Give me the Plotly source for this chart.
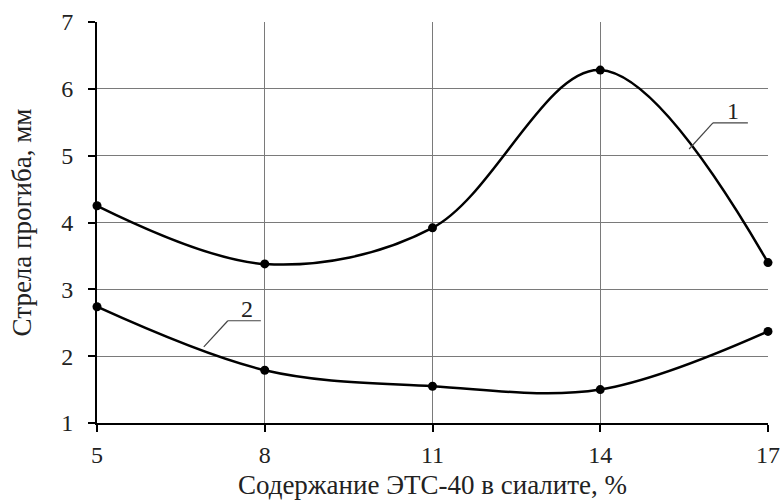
import plotly.graph_objects as go

x_vals = [5, 8, 11, 14, 17]
series1 = [4.25, 3.38, 3.92, 6.28, 3.40]
series2 = [2.74, 1.79, 1.55, 1.50, 2.37]
y_ticks = [1, 2, 3, 4, 5, 6, 7]

FONT = "Liberation Serif, Times New Roman, serif"

fig = go.Figure()
for ys in (series1, series2):
    fig.add_trace(go.Scatter(
        x=x_vals, y=ys, mode="lines+markers",
        line=dict(color="black", width=2.5, shape="spline", smoothing=1.0),
        marker=dict(color="black", size=9),
        showlegend=False, hoverinfo="skip", cliponaxis=False))

# curve labels with leader lines
labels = [
    dict(text="1", hx0=16.015, hx1=16.64, hy=5.49, sx=15.59, sy=5.10),
    dict(text="2", hx0=7.34, hx1=7.93, hy=2.53, sx=6.91, sy=2.14),
]
for lb in labels:
    fig.add_shape(type="line", x0=lb["hx0"], x1=lb["hx1"], y0=lb["hy"], y1=lb["hy"],
                  line=dict(color="#444", width=1.2))
    fig.add_shape(type="line", x0=lb["hx0"], x1=lb["sx"], y0=lb["hy"], y1=lb["sy"],
                  line=dict(color="#444", width=1.2))
    fig.add_annotation(x=(lb["hx0"] + lb["hx1"]) / 2 + 0.05, y=lb["hy"], text=lb["text"],
                       showarrow=False, yanchor="bottom", yshift=-3,
                       font=dict(family=FONT, size=24, color="#222"))

fig.update_layout(
    width=783, height=504,
    margin=dict(l=97, r=15, t=22, b=81),
    paper_bgcolor="white", plot_bgcolor="white",
    font=dict(family=FONT, size=24, color="#222"),
    xaxis=dict(range=[5, 17], tickvals=x_vals, ticks="outside", ticklen=7,
               tickcolor="black", tickwidth=1.5, ticklabelstandoff=2,
               showline=True, linecolor="black", linewidth=2,
               showgrid=True, gridcolor="#7a7a7a", gridwidth=1.3,
               zeroline=False, mirror=False, automargin=False,
               tickfont=dict(size=24),
               title=dict(text="Содержание ЭТС-40 в сиалите, %", font=dict(size=27), standoff=8)),
    yaxis=dict(range=[1, 7], tickvals=y_ticks, ticks="outside", ticklen=7,
               tickcolor="black", tickwidth=1.5, ticklabelstandoff=10,
               showline=True, linecolor="black", linewidth=2,
               showgrid=True, gridcolor="#7a7a7a", gridwidth=1.3,
               zeroline=False, automargin=False,
               tickfont=dict(size=24),
               title=dict(text="Стрела прогиба, мм", font=dict(size=27), standoff=22)),
)
fig.write_html("out.html", config={"displayModeBar": False},
               post_script="document.body.style.margin='0';")
